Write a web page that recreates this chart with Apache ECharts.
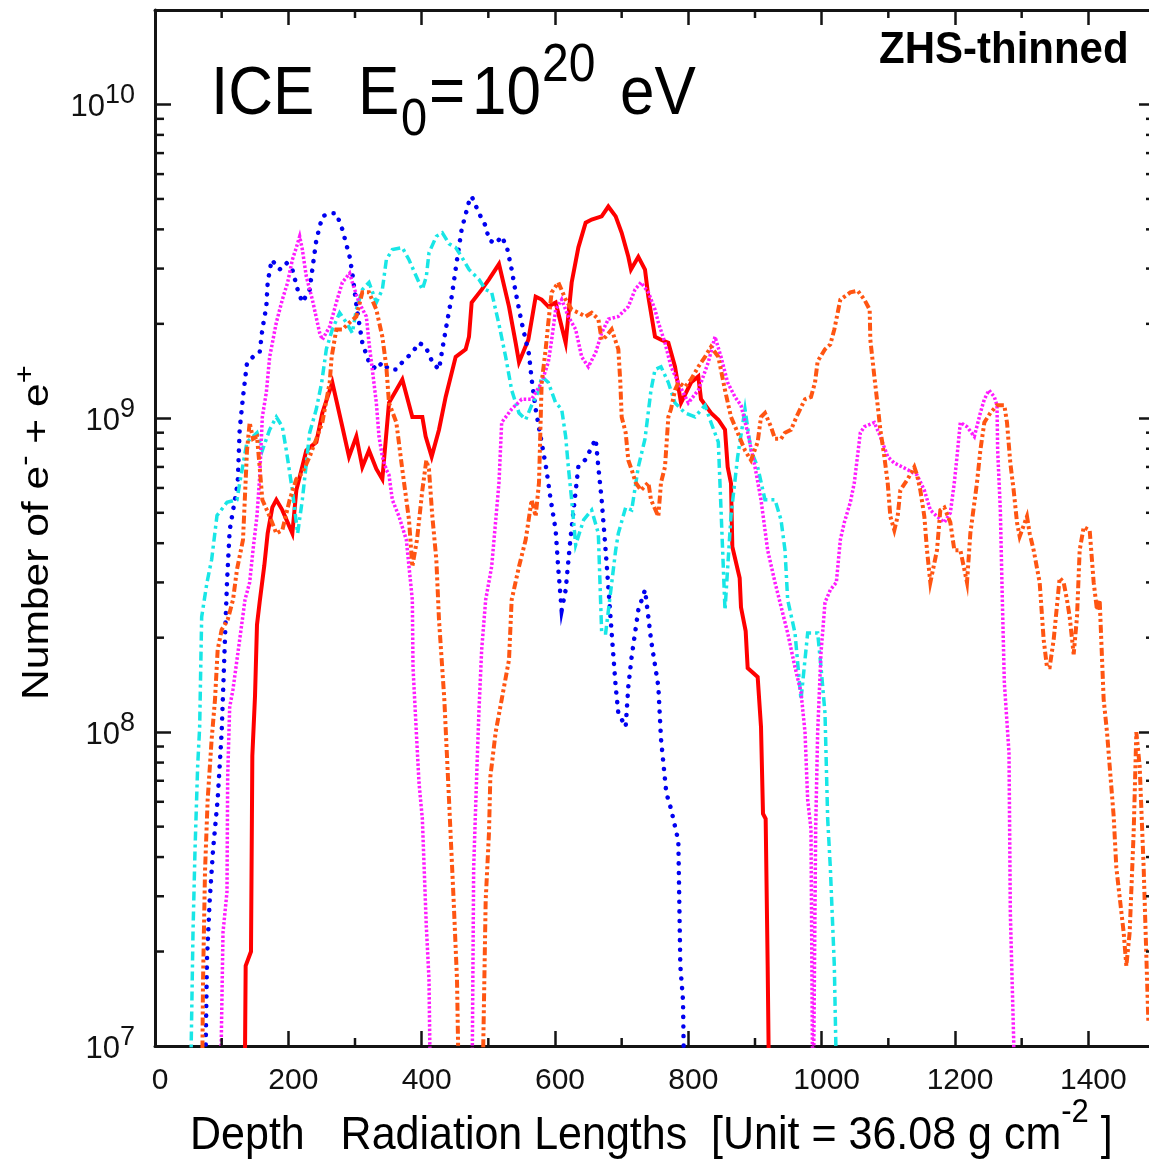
<!DOCTYPE html>
<html><head><meta charset="utf-8">
<script src="https://cdn.jsdelivr.net/npm/echarts@6/dist/echarts.min.js"></script>
<style>html,body{margin:0;padding:0;background:#fff}#c{width:1149px;height:1159px}</style>
</head><body><div id="c"></div>
<script>
// ---------------- data (depth in radiation lengths, number of e- + e+) ----------------
const redDepth = [134,136,144,146,150,153,157,164,169,176,182,191,206,212,227,242,251,266,281,291,302,311,321,332,341,351,371,386,401,406,415,426,436,451,466,471,475,490,501,516,531,541,546,560,571,580,590,601,616,625,635,646,655,670,680,691,700,710,714,725,735,740,750,759,770,780,789,804,815,819,834,845,855,859,864,866,877,879,886,889,904,909,912,916,919,922];
const redCount = [5e6,1.8e7,2.0e7,8.4e7,1.3e8,2.2e8,2.6e8,3.4e8,4.3e8,5.2e8,5.5e8,5.1e8,4.3e8,5.9e8,7.9e8,8.4e8,1.04e9,1.3e9,9.4e8,7.55e8,8.75e8,7.0e8,7.9e8,6.9e8,6.4e8,1.12e9,1.33e9,1.01e9,1.01e9,8.75e8,7.55e8,9.2e8,1.17e9,1.57e9,1.66e9,1.82e9,2.34e9,2.57e9,2.77e9,3.1e9,2.27e9,1.74e9,1.51e9,1.78e9,2.44e9,2.39e9,2.27e9,2.34e9,1.74e9,2.71e9,3.5e9,4.2e9,4.3e9,4.4e9,4.73e9,4.4e9,3.9e9,3.27e9,2.98e9,3.27e9,2.98e9,2.44e9,1.82e9,1.78e9,1.74e9,1.46e9,1.12e9,1.3e9,1.36e9,1.15e9,1.04e9,9.9e8,9.2e8,7.0e8,6.2e8,3.9e8,3.1e8,2.5e8,2.1e8,1.6e8,1.5e8,1.04e8,5.5e7,5.3e7,1.8e7,5e6];

const blueDepth = [74,78,82,87,94,100,105,108,112,124,127,132,138,147,157,161,167,169,175,187,197,206,214,221,232,236,242,251,262,272,281,292,296,303,311,321,332,341,351,362,371,386,396,406,416,426,431,438,445,453,460,471,475,486,496,501,511,520,528,535,541,550,561,565,571,579,587,593,601,605,610,616,623,635,646,661,665,670,677,685,691,695,706,710,715,725,735,740,744,755,759,767,774,785,788,792,795];
const blueCount = [5e6,1.9e7,2.9e7,4.2e7,6.1e7,1.0e8,2.0e8,3.0e8,4.4e8,6.2e8,9.2e8,1.17e9,1.5e9,1.57e9,1.62e9,1.92e9,2.27e9,2.71e9,3.2e9,2.98e9,3.13e9,2.98e9,2.57e9,2.34e9,2.57e9,2.98e9,3.7e9,4.4e9,4.5e9,4.5e9,4.0e9,3.27e9,2.9e9,2.22e9,1.74e9,1.51e9,1.43e9,1.51e9,1.43e9,1.43e9,1.51e9,1.62e9,1.74e9,1.69e9,1.51e9,1.43e9,1.66e9,2.02e9,2.44e9,3.2e9,4.0e9,4.9e9,5.1e9,4.5e9,4.1e9,3.7e9,3.6e9,3.8e9,3.5e9,2.98e9,2.52e9,2.02e9,1.6e9,1.33e9,1.07e9,8.6e8,6.9e8,5.6e8,4.4e8,3.3e8,2.45e8,2.84e8,4.1e8,7.0e8,7.4e8,8.6e8,7.0e8,5.5e8,3.55e8,2.07e8,1.4e8,1.15e8,1.04e8,1.4e8,1.74e8,2.45e8,2.84e8,2.33e8,1.97e8,1.4e8,9.5e7,6.4e7,5.7e7,4.5e7,1.8e7,1.4e7,5e6];

const cyanDepth = [52,57,60,64,67,70,78,85,93,108,123,127,138,153,161,172,182,191,197,206,214,221,232,242,250,257,266,277,287,296,302,311,321,332,341,347,356,371,381,392,401,407,411,422,431,441,451,460,471,486,496,505,516,526,535,546,556,565,576,580,590,601,610,616,620,625,631,643,655,665,670,676,691,695,706,715,725,735,744,750,759,770,780,795,810,825,834,845,855,864,874,885,894,904,915,930,939,945,949,960,969,979,994,999,1005,1009,1013,1019,1024];
const cyanCount = [5e6,2.3e7,4.2e7,7.8e7,1.04e8,2.33e8,3.0e8,3.55e8,4.9e8,5.4e8,5.5e8,6.2e8,8.4e8,9.0e8,7.9e8,9.2e8,1.01e9,9.4e8,7.9e8,5.9e8,4.3e8,5.5e8,9.0e8,1.07e9,1.3e9,1.66e9,1.92e9,2.17e9,2.02e9,1.87e9,2.22e9,2.57e9,2.71e9,2.34e9,2.57e9,3.2e9,3.45e9,3.5e9,3.2e9,2.83e9,2.57e9,2.83e9,3.37e9,3.8e9,3.9e9,3.6e9,3.5e9,3.27e9,2.98e9,2.77e9,2.57e9,2.52e9,1.99e9,1.57e9,1.23e9,1.04e9,9.9e8,1.1e9,1.23e9,1.36e9,1.3e9,1.12e9,1.07e9,8.75e8,7.0e8,5.5e8,3.95e8,4.75e8,5.1e8,4.3e8,2.07e8,2.07e8,3.8e8,4.3e8,5.2e8,5.1e8,7.0e8,8.6e8,1.23e9,1.43e9,1.46e9,1.3e9,1.12e9,1.04e9,1.01e9,1.1e9,9.7e8,8.4e8,2.45e8,4.9e8,7.55e8,1.07e9,7.9e8,7.0e8,5.5e8,5.5e8,4.75e8,3.8e8,2.64e8,2.07e8,1.27e8,2.07e8,2.07e8,1.61e8,1.15e8,5.3e7,3.7e7,1.8e7,5e6];

const magentaDepth = [97,102,108,109,112,117,127,135,142,147,153,157,161,167,172,182,191,199,206,212,217,221,227,236,247,251,262,272,281,292,296,306,317,321,326,332,336,341,347,351,356,366,377,381,386,387,392,396,401,407,411,414,475,478,483,486,490,496,505,516,520,535,550,565,580,590,595,601,610,620,631,640,650,661,670,680,695,710,720,729,740,750,755,765,774,785,800,815,830,840,849,859,870,879,889,900,909,919,930,949,960,969,975,979,984,985,987,990,991,994,999,1005,1013,1022,1028,1034,1043,1049,1054,1058,1064,1079,1088,1099,1109,1129,1143,1154,1163,1173,1184,1193,1199,1203,1208,1218,1229,1238,1244,1251,1259,1263,1264,1268,1271,1274,1281,1283,1288,1290];
const magentaCount = [5e6,2.3e7,3.1e7,7.2e7,1.2e8,1.37e8,1.97e8,2.64e8,3.0e8,3.8e8,4.9e8,6.5e8,1.01e9,1.21e9,1.57e9,2.02e9,2.39e9,2.71e9,3.2e9,3.5e9,3.8e9,3.45e9,2.83e9,2.39e9,1.87e9,1.78e9,1.96e9,2.34e9,2.71e9,2.9e9,2.71e9,2.34e9,2.11e9,1.74e9,1.43e9,1.12e9,8.75e8,7.55e8,6.86e8,6.6e8,5.5e8,4.87e8,4.1e8,3.37e8,2.64e8,1.61e8,1.0e8,6.9e7,5.3e7,2.4e7,1.63e7,5e6,5e6,3.7e7,7.8e7,1.18e8,1.83e8,2.64e8,3.37e8,6.24e8,9.7e8,1.07e9,1.15e9,1.15e9,1.3e9,1.51e9,1.78e9,2.22e9,2.39e9,2.11e9,1.92e9,1.57e9,1.46e9,1.62e9,1.87e9,2.07e9,2.11e9,2.27e9,2.57e9,2.71e9,2.52e9,2.22e9,2.02e9,1.74e9,1.46e9,1.3e9,1.12e9,1.23e9,1.51e9,1.82e9,1.57e9,1.3e9,1.17e9,1.1e9,9.0e8,7.0e8,5.5e8,3.8e8,3.0e8,2.07e8,1.61e8,1.34e8,1.0e8,6.1e7,4.9e7,2.3e7,5e6,5e6,4.9e7,1.0e8,1.79e8,2.59e8,2.84e8,3.0e8,4.1e8,4.66e8,5.4e8,6.24e8,7.65e8,9.0e8,9.4e8,9.7e8,8.75e8,7.55e8,7.2e8,6.86e8,6.6e8,5.9e8,5.1e8,4.87e8,4.66e8,5.0e8,6.24e8,7.55e8,9.7e8,9.4e8,8.75e8,1.04e9,1.15e9,1.23e9,1.17e9,1.1e9,7.9e8,5.1e8,2.64e8,1.44e8,8.6e7,2.65e7,1.05e7,5e6];

const orangeDepth = [70,72,75,79,85,90,94,100,109,117,123,132,138,142,147,153,157,161,172,182,191,202,212,221,232,242,251,262,265,272,281,292,302,311,321,332,341,347,351,362,371,381,386,393,401,407,411,416,422,426,434,441,448,453,457,490,496,501,503,511,520,531,535,546,556,565,571,576,580,586,590,595,605,616,625,635,646,655,665,670,676,685,695,698,700,706,710,715,721,729,740,744,755,759,765,770,774,780,785,795,804,815,825,834,845,855,864,874,885,894,904,909,915,924,930,939,945,954,964,975,984,990,994,1005,1013,1019,1028,1043,1054,1064,1072,1073,1079,1084,1088,1094,1099,1103,1109,1114,1118,1129,1139,1143,1148,1154,1158,1163,1173,1178,1184,1193,1199,1208,1214,1218,1223,1233,1238,1244,1253,1263,1274,1278,1283,1288,1293,1297,1308,1312,1318,1327,1333,1338,1342,1348,1357,1363,1368,1372,1378,1383,1387,1393,1402,1408,1413,1417,1423,1428,1432,1438,1442,1453,1457,1462,1468,1472,1477,1483,1490];
const orangeCount = [5e6,1.59e7,3.6e7,6.1e7,9.5e7,1.27e8,1.83e8,2.12e8,2.28e8,2.64e8,3.3e8,4.1e8,7.9e8,9.7e8,8.6e8,8.75e8,7.0e8,5.5e8,4.87e8,4.3e8,4.4e8,5.5e8,6.4e8,6.7e8,7.55e8,8.6e8,9.7e8,1.3e9,1.57e9,1.92e9,1.92e9,2.02e9,2.11e9,2.52e9,2.52e9,2.22e9,1.82e9,1.46e9,1.12e9,9.7e8,6.86e8,4.75e8,3.37e8,4.1e8,5.9e8,7.35e8,6.86e8,4.87e8,3.55e8,2.28e8,1.27e8,6.1e7,2.9e7,1.63e7,5e6,5e6,2.9e7,4.8e7,7.2e7,1.0e8,1.27e8,1.7e8,2.64e8,3.37e8,4.1e8,5.5e8,4.87e8,6.24e8,1.3e9,1.66e9,2.02e9,2.52e9,2.71e9,2.39e9,2.22e9,2.17e9,2.11e9,2.17e9,2.07e9,1.78e9,1.82e9,1.92e9,1.66e9,1.3e9,1.01e9,9.0e8,7.35e8,6.86e8,6.24e8,5.9e8,6.24e8,5.5e8,4.87e8,6.24e8,7.0e8,1.01e9,1.07e9,1.23e9,1.3e9,1.26e9,1.33e9,1.46e9,1.57e9,1.69e9,1.57e9,1.23e9,1.01e9,9.0e8,7.9e8,7.35e8,8.4e8,1.01e9,1.04e9,9.4e8,8.6e8,8.6e8,9.0e8,9.2e8,1.03e9,1.15e9,1.17e9,1.3e9,1.52e9,1.66e9,1.72e9,1.92e9,2.39e9,2.52e9,2.55e9,2.39e9,2.22e9,1.78e9,1.36e9,1.1e9,9.2e8,7.55e8,6.24e8,4.87e8,4.4e8,4.87e8,5.9e8,6.4e8,7.0e8,6.6e8,5.9e8,4.87e8,3.8e8,3.0e8,3.8e8,5.1e8,5.2e8,4.66e8,3.8e8,3.8e8,3.3e8,3.0e8,4.3e8,6.24e8,7.9e8,9.7e8,1.04e9,1.1e9,1.1e9,9.7e8,7.2e8,5.9e8,4.66e8,4.2e8,4.87e8,4.3e8,3.8e8,3.0e8,1.97e8,1.61e8,1.61e8,1.97e8,3.1e8,3.0e8,2.64e8,2.33e8,1.77e8,2.33e8,3.8e8,4.5e8,4.4e8,3.0e8,2.45e8,2.64e8,1.27e8,1.0e8,7.8e7,5.4e7,3.7e7,2.3e7,1.8e7,2.3e7,4.8e7,1.0e8,7.8e7,3.7e7,1.2e7];

// axis tick values
const xLabelTicks = [0,200,400,600,800,1000,1200,1400];
const xMinorTicks = [100,300,500,700,900,1100,1300,1500];
const yMinorTicks = [2e7,3e7,4e7,5e7,6e7,7e7,8e7,9e7,2e8,3e8,4e8,5e8,6e8,7e8,8e8,9e8,2e9,3e9,4e9,5e9,6e9,7e9,8e9,9e9];

const X_MIN = 0, X_MAX = 1500, Y_MIN = 1e7, Y_MAX = 2e10;
const FONT = '"Liberation Sans", Arial, Helvetica, sans-serif';
const AX = '#141414';

function zip(d, v) { return d.map((x, i) => [x, v[i]]); }

const chart = echarts.init(document.getElementById('c'), null, {renderer: 'canvas'});

function lineSeries(name, d, v, color, width, dash, cap, z) {
  return {
    name, type: 'line', data: zip(d, v), xAxisIndex: 0, yAxisIndex: 0,
    showSymbol: false, symbol: 'none', animation: false, z,
    lineStyle: {color, width, type: dash, cap: cap || 'butt', join: 'miter'},
    clip: true
  };
}
function txt(x, y, text, size, extra) {
  return Object.assign({type: 'text', x, y, z: 20, scaleY: 1.1,
    style: {text, fontSize: size, fontFamily: FONT, fill: '#000', align: 'left', verticalAlign: 'middle', textAlign: 'left', textVerticalAlign: 'middle'}}, extra || {});
}

const option = {
  backgroundColor: '#ffffff',
  animation: false,
  grid: {left: 155, top: 10, width: 1000, height: 1036, containLabel: false, outerBoundsMode: 'none'},
  xAxis: [
    {type: 'value', position: 'bottom', min: X_MIN, max: X_MAX, interval: 200,
     axisLine: {show: true, onZero: false, lineStyle: {color: AX, width: 3}},
     axisTick: {show: true, inside: true, length: 15, lineStyle: {color: AX, width: 2.5}},
     axisLabel: {show: true, color: '#111', fontSize: 30, fontFamily: FONT, margin: 20, padding: [0, 0, 0, 10],
       formatter: v => (xLabelTicks.indexOf(v) >= 0 ? String(v) : '')},
     splitLine: {show: false}},
    {type: 'value', position: 'top', min: X_MIN, max: X_MAX, interval: 200,
     axisLine: {show: true, onZero: false, lineStyle: {color: AX, width: 3}},
     axisTick: {show: true, inside: true, length: 15, lineStyle: {color: AX, width: 2.5}},
     axisLabel: {show: false}, splitLine: {show: false}}
  ],
  yAxis: [
    {type: 'log', logBase: 10, position: 'left', min: Y_MIN, max: Y_MAX,
     axisLine: {show: true, onZero: false, lineStyle: {color: AX, width: 3}},
     axisTick: {show: true, inside: true, length: 16, lineStyle: {color: AX, width: 2.5}},
     axisLabel: {show: true, margin: 20, color: '#111', fontFamily: FONT, padding: [6, 0, 0, 0],
       formatter: function (v) {
         const l = Math.log10(v), n = Math.round(l);
         if (Math.abs(l - n) > 1e-6) return '';
         return '{b|10}{s|' + n + '}';
       },
       rich: {
         b: {fontSize: 31, fontFamily: FONT, color: '#111', lineHeight: 50},
         s: {fontSize: 27, fontFamily: FONT, color: '#111', lineHeight: 27, verticalAlign: 'top'}
       }},
     splitLine: {show: false}},
    {type: 'log', logBase: 10, position: 'right', min: Y_MIN, max: Y_MAX,
     axisLine: {show: true, onZero: false, lineStyle: {color: AX, width: 3}},
     axisTick: {show: true, inside: true, length: 16, lineStyle: {color: AX, width: 2.5}},
     axisLabel: {show: false}, splitLine: {show: false}}
  ],
  series: [
    lineSeries('red', redDepth, redCount, '#ff0000', 4, 'solid', 'butt', 2),
    lineSeries('blue', blueDepth, blueCount, '#0000f0', 4.5, [0.1, 9.5], 'round', 3),
    lineSeries('cyan', cyanDepth, cyanCount, '#18e6e6', 3.5, [9, 4, 3, 4], 'butt', 4),
    lineSeries('magenta', magentaDepth, magentaCount, '#ff1aff', 3.5, [2.5, 2], 'butt', 5),
    lineSeries('orange', orangeDepth, orangeCount, '#ff5512', 4, [8, 3, 3, 3, 3, 3], 'butt', 6),
    {
      type: 'custom', coordinateSystem: 'cartesian2d', xAxisIndex: 0, yAxisIndex: 0,
      silent: true, animation: false, z: 10, clip: false,
      data: yMinorTicks.map(v => [X_MIN, v]), encode: {x: 0, y: 1},
      renderItem: function (params, api) {
        const v = api.value(1);
        const a = api.coord([X_MIN, v]), b = api.coord([X_MAX, v]);
        return {type: 'group', children: [
          {type: 'line', shape: {x1: a[0], y1: a[1], x2: a[0] + 9, y2: a[1]}, style: {stroke: AX, lineWidth: 2.5}},
          {type: 'line', shape: {x1: b[0] - 9, y1: b[1], x2: b[0], y2: b[1]}, style: {stroke: AX, lineWidth: 2.5}}
        ]};
      }
    },
    {
      type: 'custom', coordinateSystem: 'cartesian2d', xAxisIndex: 0, yAxisIndex: 0,
      silent: true, animation: false, z: 10, clip: false,
      data: xMinorTicks.map(x => [x, Y_MIN]), encode: {x: 0, y: 1},
      renderItem: function (params, api) {
        const x = api.value(0);
        const a = api.coord([x, Y_MIN]), b = api.coord([x, Y_MAX]);
        return {type: 'group', children: [
          {type: 'line', shape: {x1: a[0], y1: a[1], x2: a[0], y2: a[1] - 8}, style: {stroke: AX, lineWidth: 2.5}},
          {type: 'line', shape: {x1: b[0], y1: b[1], x2: b[0], y2: b[1] + 8}, style: {stroke: AX, lineWidth: 2.5}}
        ]};
      }
    }
  ],
  graphic: [
    txt(211, 95, 'ICE', 62),
    txt(358, 95, 'E', 62),
    txt(401, 121, '0', 47),
    txt(429, 95, '=', 62),
    txt(472, 95, '10', 62),
    txt(542, 66, '20', 48),
    txt(620, 95, 'eV', 62),
    txt(879, 51, 'ZHS-thinned', 42, {scaleY: 1.05, style: {text: 'ZHS-thinned', fontSize: 42, fontWeight: 'bold', fontFamily: FONT, fill: '#000', align: 'left', verticalAlign: 'middle', textAlign: 'left', textVerticalAlign: 'middle'}}),
    {type: 'text', x: 190, y: 1136, scaleY: 1.09, z: 20,
     style: {text: '{a|Depth   Radiation Lengths  [Unit = 36.08 g cm}{s|-2}{a| ]}',
       fill: '#000', align: 'left', verticalAlign: 'middle', textAlign: 'left', textVerticalAlign: 'middle',
       rich: {
         a: {fontSize: 43, fontFamily: FONT, fill: '#000', lineHeight: 74},
         s: {fontSize: 31, fontFamily: FONT, fill: '#000', lineHeight: 32, verticalAlign: 'top'}
       }}},
    {type: 'text', x: 38, y: 700, rotation: Math.PI / 2, scaleX: 1.15, z: 20,
     style: {text: '{a|Number of e}{s|-}{a| + e}{s|+}',
       fill: '#000', align: 'left', verticalAlign: 'middle', textAlign: 'left', textVerticalAlign: 'middle',
       rich: {
         a: {fontSize: 37, fontFamily: FONT, fill: '#000', lineHeight: 52},
         s: {fontSize: 27, fontFamily: FONT, fill: '#000', lineHeight: 27, verticalAlign: 'top'}
       }}}
  ]
};
chart.setOption(option);
</script>
</body></html>
